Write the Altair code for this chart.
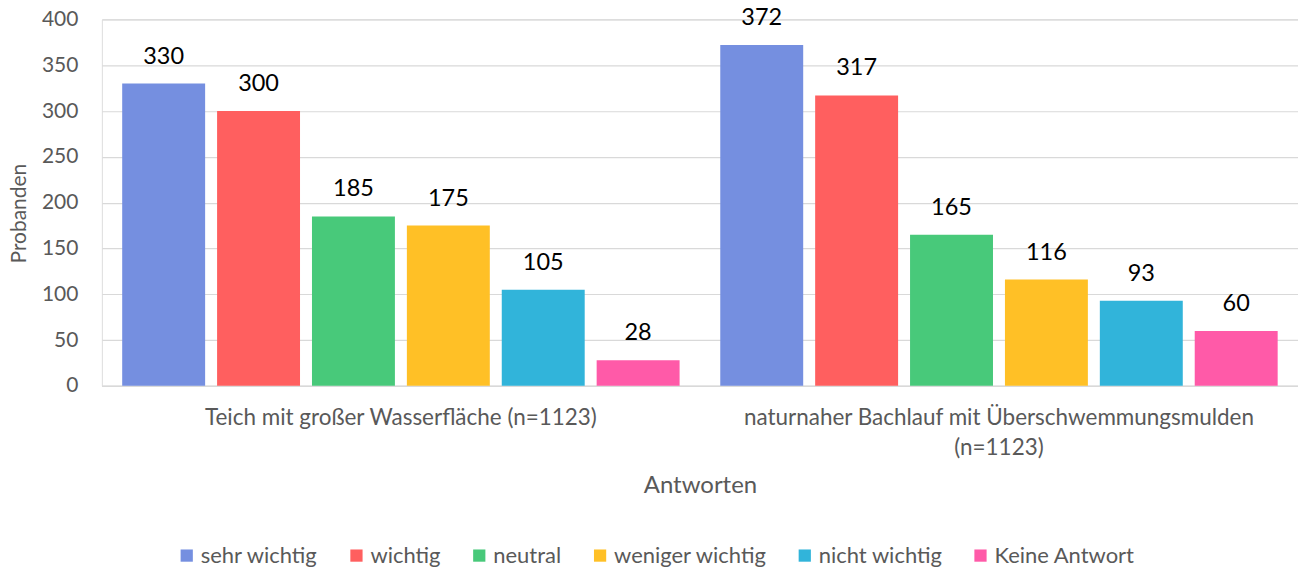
import altair as alt
import pandas as pd

groups = ["Teich mit großer Wasserfläche (n=1123)",
          "naturnaher Bachlauf mit Überschwemmungsmulden|(n=1123)"]
answers = ["sehr wichtig", "wichtig", "neutral", "weniger wichtig", "nicht wichtig", "Keine Antwort"]
values_teich = [330, 300, 185, 175, 105, 28]
values_bach = [372, 317, 165, 116, 93, 60]
colors = ["#758FE0", "#FF5F5F", "#48C97A", "#FFC026", "#31B4DA", "#FF5AA8"]

rows = []
for g, vals in zip(groups, [values_teich, values_bach]):
    for a, v in zip(answers, vals):
        rows.append({"Gruppe": g, "Antwort": a, "Wert": v})
df = pd.DataFrame(rows)

FONT = "Lato"
LABEL_COLOR = "#595959"

base = alt.Chart(df).encode(
    x=alt.X("Gruppe:N", sort=groups,
            scale=alt.Scale(paddingInner=0.068, paddingOuter=0.034),
            axis=alt.Axis(title="Antworten", labelAngle=0,
                          labelExpr="split(datum.label, '|')",
                          labelFont=FONT, labelFontSize=22.5, labelColor=LABEL_COLOR,
                          labelPadding=21, labelLineHeight=30, labelLimit=0,
                          ticks=False, domainColor="#D9D9D9", domainWidth=1.5,
                          titleFont=FONT, titleFontSize=24, titleColor=LABEL_COLOR,
                          titleFontWeight="normal", titleY=100, titleBaseline="middle")),
    xOffset=alt.XOffset("Antwort:N", sort=answers,
                        scale=alt.Scale(paddingInner=0.126, paddingOuter=0)),
    y=alt.Y("Wert:Q", scale=alt.Scale(domain=[0, 400]),
            axis=alt.Axis(title="Probanden", values=[0, 50, 100, 150, 200, 250, 300, 350, 400],
                          labelFont=FONT, labelFontSize=21, labelColor=LABEL_COLOR,
                          labelPadding=24, ticks=False, domain=False,
                          gridColor="#D9D9D9", gridWidth=1.2,
                          titleFont=FONT, titleFontSize=21, titleColor=LABEL_COLOR,
                          titleFontWeight="normal", titleX=-82, titleY=194,
                          titleAlign="center", titleBaseline="middle")),
)

bars = base.mark_bar().encode(
    color=alt.Color("Antwort:N", sort=answers,
                    scale=alt.Scale(domain=answers, range=colors),
                    legend=alt.Legend(title=None, orient="none", direction="horizontal",
                                      legendX=74, legendY=526, columns=6,
                                      symbolType="square", symbolSize=150,
                                      symbolStrokeWidth=0, symbolOpacity=1,
                                      labelFont=FONT, labelFontSize=22, labelColor=LABEL_COLOR,
                                      labelOffset=3, columnPadding=27, labelLimit=0))
)

text = base.mark_text(baseline="alphabetic", dy=-20, font=FONT, fontSize=23.5, color="#000000").encode(
    text=alt.Text("Wert:Q")
)

chart = alt.layer(bars, text).properties(
    width=1198, height=367,
    autosize=alt.AutoSizeParams(type="none"),
    padding={"left": 94, "top": 11, "right": 0, "bottom": 184},
).configure_view(stroke=None).configure(background="#FFFFFF")

chart.save("out.html", embed_options={"renderer": "svg", "actions": False})
